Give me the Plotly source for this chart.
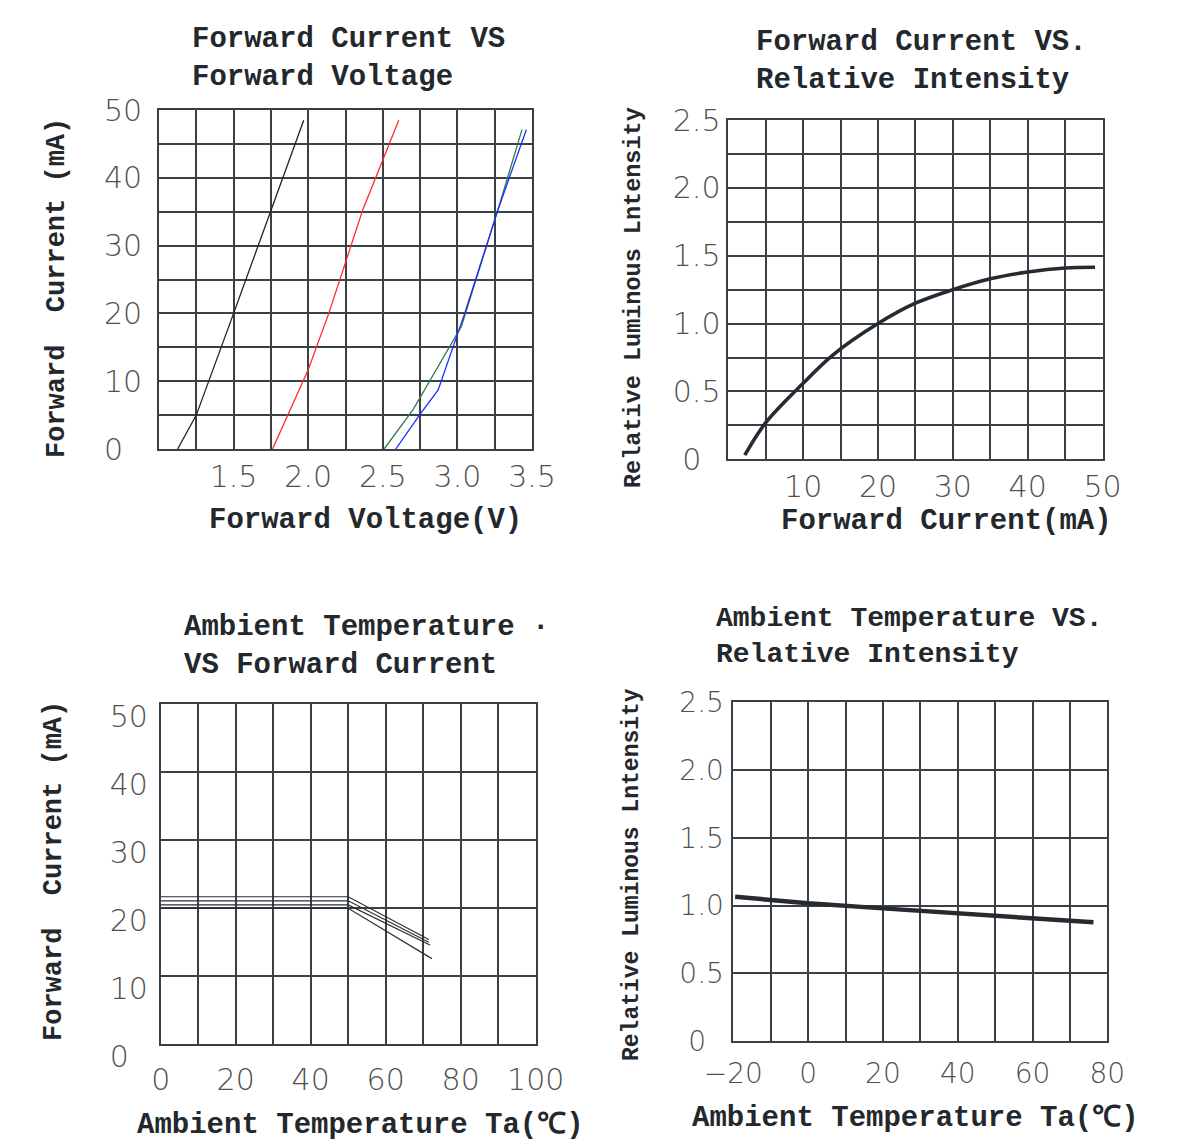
import plotly.graph_objects as go

W, H = 1179, 1144

# ---------------- data ----------------
# Panel 1: Forward current vs forward voltage (four LED colours)
vf_black = [1.125, 1.25, 1.50, 1.75, 1.97]
if_black = [0, 5, 20, 35.3, 48.5]
vf_red = [1.761, 1.955, 2.0, 2.138, 2.366, 2.607]
if_red = [0, 9.5, 11.7, 20, 35.3, 48.5]
vf_green = [2.509, 2.703, 3.027, 3.272, 3.433]
if_green = [0, 5.8, 18.1, 35.3, 47.1]
vf_blue = [2.587, 2.748, 2.871, 3.049, 3.272, 3.462]
if_blue = [0, 5.06, 8.7, 20.0, 35.3, 47.1]
p1_xticks = [1.5, 2.0, 2.5, 3.0, 3.5]
p1_xlabels = ["1.5", "2.0", "2.5", "3.0", "3.5"]
p1_yticks = [0, 10, 20, 30, 40, 50]
p1_ylabels = ["0", "10", "20", "30", "40", "50"]

# Panel 2: Forward current vs relative intensity
if_current = [2.2, 5, 10, 14, 20, 25, 30, 35, 40, 45, 49]
rel_int = [0.03, 0.27, 0.56, 0.77, 1.0, 1.15, 1.25, 1.33, 1.38, 1.41, 1.415]
p2_xticks = [10, 20, 30, 40, 50]
p2_xlabels = ["10", "20", "30", "40", "50"]
p2_yticks = [0, 0.5, 1.0, 1.5, 2.0, 2.5]
p2_ylabels = ["0", "0.5", "1.0", "1.5", "2.0", "2.5"]

# Panel 3: Ambient temperature vs forward current (derating, four traces)
ta_derate_a = [0, 50, 71.5]
if_derate_a = [21.7, 21.7, 15.4]
ta_derate_b = [0, 50, 71.5]
if_derate_b = [21.1, 21.1, 15.0]
ta_derate_c = [0, 50, 71.8]
if_derate_c = [20.5, 20.5, 14.6]
ta_derate_d = [0, 50, 72.3]
if_derate_d = [20.0, 20.0, 12.6]
p3_xticks = [0, 20, 40, 60, 80, 100]
p3_xlabels = ["0", "20", "40", "60", "80", "100"]
p3_yticks = [0, 10, 20, 30, 40, 50]
p3_ylabels = ["0", "10", "20", "30", "40", "50"]

# Panel 4: Ambient temperature vs relative intensity
ta_temp = [-19.5, 0, 20, 40, 60, 76.3]
rel_temp = [1.065, 1.016, 0.979, 0.942, 0.906, 0.876]
p4_xticks = [-20, 0, 20, 40, 60, 80]
p4_xlabels = ["\u221220", "0", "20", "40", "60", "80"]
p4_yticks = [0, 0.5, 1.0, 1.5, 2.0, 2.5]
p4_ylabels = ["0", "0.5", "1.0", "1.5", "2.0", "2.5"]

# ---------------- style ----------------
GRID = "#3b4046"
GW = 1.6
TICKFONT = dict(family="DejaVu Sans", size=30, color="#505050", weight=200)
TITLEFONT = "Liberation Mono"
PAD0 = "\u00a0\u00a0"


def pad_zero(labels):
    return [t + PAD0 if t == "0" else t for t in labels]


def px(x):
    return x / W


def py(y):
    return 1 - y / H


fig = go.Figure()

# panel 1 traces
for xs, ys, col in [(vf_black, if_black, "#222222"), (vf_red, if_red, "#ff2a2a"),
                    (vf_green, if_green, "#2f7a45"), (vf_blue, if_blue, "#1f2bff")]:
    fig.add_trace(go.Scatter(x=xs, y=ys, mode="lines", line=dict(color=col, width=1.3),
                             xaxis="x", yaxis="y", showlegend=False, hoverinfo="skip"))
# panel 2
fig.add_trace(go.Scatter(x=if_current, y=rel_int, mode="lines", line=dict(color="#262b31", width=3.6, shape="spline"),
                         xaxis="x2", yaxis="y2", showlegend=False, hoverinfo="skip"))
# panel 3
for xs, ys in [(ta_derate_a, if_derate_a), (ta_derate_b, if_derate_b),
               (ta_derate_c, if_derate_c), (ta_derate_d, if_derate_d)]:
    fig.add_trace(go.Scatter(x=xs, y=ys, mode="lines", line=dict(color="#2a2f35", width=1.2),
                             xaxis="x3", yaxis="y3", showlegend=False, hoverinfo="skip"))
# panel 4
fig.add_trace(go.Scatter(x=ta_temp, y=rel_temp, mode="lines", line=dict(color="#262b31", width=4.5),
                         xaxis="x4", yaxis="y4", showlegend=False, hoverinfo="skip"))


def axis(domain, rng, tickvals, ticktext, minor_dtick, minor_tick0, anchor, standoff, size=30, shift=0):
    d = dict(domain=domain, range=rng, tickmode="array", tickvals=tickvals, ticktext=ticktext,
             showgrid=True, gridcolor=GRID, gridwidth=GW, zeroline=False,
             showline=True, mirror=True, linecolor=GRID, linewidth=GW,
             ticks="", ticklen=0, tickfont=dict(TICKFONT, size=size), anchor=anchor,
             ticklabelstandoff=standoff, fixedrange=True, automargin=False)
    if shift:
        d["ticklabelshift"] = shift
    if minor_dtick:
        d["minor"] = dict(dtick=minor_dtick, tick0=minor_tick0, showgrid=True,
                          gridcolor=GRID, gridwidth=GW, ticks="")
    return d


fig.update_layout(
    template="none",
    width=W, height=H, margin=dict(l=0, r=0, t=0, b=0, pad=0, autoexpand=False),
    paper_bgcolor="white", plot_bgcolor="white",
    xaxis=axis([px(159), px(532)], [1.0, 3.5], p1_xticks, p1_xlabels, 0.25, 1.0, "y", 0),
    yaxis=axis([py(449), py(110)], [0, 50], p1_yticks, pad_zero(p1_ylabels), 5, 0, "x", 9),
    xaxis2=axis([px(728.3), px(1102.5)], [0, 50], p2_xticks, p2_xlabels, 5, 0, "y2", 0),
    yaxis2=axis([py(459.3), py(120)], [0, 2.5], p2_yticks, pad_zero(p2_ylabels), 0.25, 0, "x2", 0),
    xaxis3=axis([px(160.7), px(535.7)], [0, 100], p3_xticks, p3_xlabels, 10, 0, "y3", 8),
    yaxis3=axis([py(1044.3), py(704.3)], [0, 50], p3_yticks, pad_zero(p3_ylabels), 10, 0, "x3", 5, shift=12),
    xaxis4=axis([px(733.3), px(1107.3)], [-20, 80], p4_xticks, p4_xlabels, 10, 0, "y4", 7, size=28),
    yaxis4=axis([py(1041), py(702.3)], [0, 2.5], p4_yticks, pad_zero(p4_ylabels), 0.5, 0, "x4", 2, size=28),
)

ann = []


def text(x, y, s, size, xanchor="left", angle=0):
    ann.append(dict(x=px(x), y=py(y), xref="paper", yref="paper", text=s, showarrow=False,
                    xanchor=xanchor, yanchor="middle", textangle=angle, align="left",
                    font=dict(family=TITLEFONT, size=size, color="#23282d", weight="bold")))


# chart titles
text(190, 59, "Forward Current VS<br>Forward Voltage", 29)
text(754, 61, "Forward Current VS.<br>Relative Intensity", 29)
text(182, 646, "Ambient Temperature \u00b7<br>VS Forward Current", 29)
text(714, 637, "Ambient Temperature VS.<br>Relative Intensity", 28)

# axis titles
text(365, 520, "Forward Voltage(V)", 29, "center")
text(946, 521, "Forward Current(mA)", 29, "center")
text(360, 1125, "Ambient Temperature Ta(\u2103)", 29, "center")
text(915, 1118, "Ambient Temperature Ta(\u2103)", 29, "center")
text(57, 288, "Forward  Current (mA)", 27, "center", -90)
text(54, 871, "Forward  Current (mA)", 27, "center", -90)
text(634, 298, "Relative Luminous Lntensity", 23.5, "center", -90)
text(632, 875, "Relative Luminous Lntensity", 23, "center", -90)

fig.update_layout(annotations=ann)
fig.write_html("out.html")
